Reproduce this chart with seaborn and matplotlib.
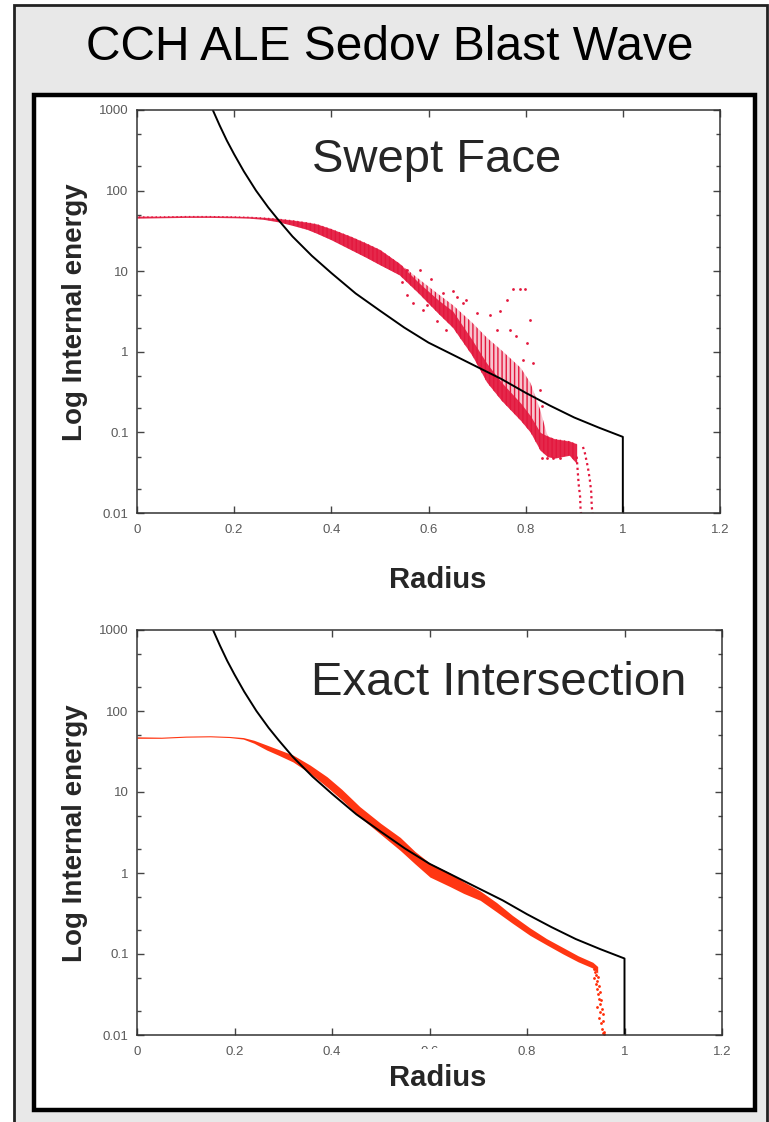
import numpy as np
import pandas as pd
import matplotlib
matplotlib.use('Agg')
import matplotlib.pyplot as plt
import seaborn as sns
from matplotlib.patches import Rectangle
from matplotlib.ticker import LogLocator, NullFormatter, FixedLocator

# exact Sedov solution (black curve)
exact_r = [0.156, 0.17, 0.185, 0.20, 0.22, 0.245, 0.27, 0.29, 0.32, 0.36, 0.40, 0.45,
           0.50, 0.55, 0.60, 0.65, 0.70, 0.75, 0.80, 0.85, 0.90, 0.95, 1.0, 1.0]
exact_e = [1000, 646, 417, 282, 173, 100, 62, 44, 27, 15.5, 9.5, 5.3,
           3.24, 2.0, 1.3, 0.92, 0.65, 0.46, 0.31, 0.215, 0.153, 0.115, 0.088, 0.005]

# swept face: band of cells
sw_r = [0.0, 0.05, 0.10, 0.15, 0.20, 0.23, 0.26, 0.29, 0.32, 0.35, 0.37, 0.40, 0.44,
        0.47, 0.50, 0.54, 0.58, 0.62, 0.65, 0.69, 0.72, 0.75, 0.79, 0.81, 0.83, 0.845,
        0.86, 0.89, 0.905]
sw_hi = [48, 48, 48.5, 48.5, 48, 47.5, 46.5, 45, 43, 40.5, 38.5, 33.5, 27,
         22.5, 18.5, 12.5, 8, 5.2, 3.8, 2.3, 1.5, 1.05, 0.63, 0.41, 0.19, 0.09,
         0.083, 0.078, 0.072]
sw_core = [48, 48, 48.5, 48.5, 48, 47.5, 46.5, 45, 43, 40.5, 38.5, 33.5, 27,
           22.5, 18.5, 12.5, 7.2, 4.4, 3.2, 1.4, 0.72, 0.42, 0.23, 0.16, 0.10, 0.09,
           0.083, 0.078, 0.072]
sw_lo = [45.5, 46, 46.5, 46.5, 46, 45.5, 44, 41, 37, 33, 29.5, 24.5, 18.5,
         15, 12, 9, 5.3, 3.0, 2.0, 0.9, 0.42, 0.25, 0.14, 0.10, 0.06, 0.05,
         0.048, 0.052, 0.041]

# swept face: scattered cells
sw_out_r = [0.545, 0.555, 0.555, 0.569, 0.582, 0.589, 0.596, 0.606, 0.617, 0.63, 0.637,
            0.651, 0.658, 0.671, 0.678, 0.699, 0.726, 0.74, 0.747, 0.761, 0.767, 0.774,
            0.781, 0.788, 0.795, 0.798, 0.802, 0.809, 0.815, 0.829, 0.833, 0.833, 0.843,
            0.856, 0.87]
sw_out_e = [7.4, 10.3, 5.1, 4.0, 10.3, 3.3, 3.8, 8.1, 2.4, 5.3, 1.86,
            5.6, 4.8, 4.0, 4.4, 3.0, 2.9, 1.86, 3.2, 4.4, 1.86, 6.0,
            1.55, 6.0, 0.8, 6.0, 1.27, 2.5, 0.72, 0.34, 0.21, 0.048, 0.048,
            0.048, 0.048]
sw_tail_a_r = [0.905, 0.907, 0.909, 0.912, 0.913, 0.915]
sw_tail_a_e = [0.05, 0.034, 0.023, 0.016, 0.011, 0.009]
sw_tail_b_r = [0.918, 0.922, 0.928, 0.932, 0.935, 0.936, 0.938]
sw_tail_b_e = [0.066, 0.055, 0.037, 0.026, 0.018, 0.012, 0.0095]

# exact intersection: band of cells
ex_r = [0.0, 0.05, 0.10, 0.15, 0.19, 0.218, 0.24, 0.266, 0.29, 0.32, 0.355, 0.39, 0.42,
        0.457, 0.50, 0.54, 0.57, 0.601, 0.642, 0.67, 0.704, 0.738, 0.77, 0.806, 0.84,
        0.874, 0.905, 0.935, 0.945]
ex_hi = [48, 47.5, 49, 49.5, 48.5, 47, 43.5, 38, 33.5, 28.6, 21.5, 15.4, 10.8,
         6.6, 4.1, 2.75, 1.85, 1.32, 1.0, 0.78, 0.6, 0.43, 0.3, 0.21, 0.155,
         0.12, 0.095, 0.079, 0.07]
ex_lo = [46, 46, 47.5, 48, 47, 45, 40, 33, 28.5, 23.5, 17, 11.5, 8.0,
         4.9, 3.0, 1.9, 1.3, 0.89, 0.68, 0.56, 0.46, 0.33, 0.24, 0.17, 0.13,
         0.10, 0.08, 0.067, 0.058]
ex_tail_r = [0.937, 0.94, 0.942, 0.938, 0.944, 0.946, 0.941, 0.948, 0.943, 0.95, 0.945,
             0.947, 0.952, 0.949, 0.944, 0.953, 0.95, 0.955, 0.948, 0.956, 0.951, 0.954,
             0.957, 0.955, 0.958]
ex_tail_e = [0.066, 0.06, 0.055, 0.05, 0.047, 0.052, 0.043, 0.04, 0.037, 0.034, 0.032,
             0.028, 0.027, 0.024, 0.022, 0.021, 0.019, 0.018, 0.016, 0.015, 0.014, 0.012,
             0.011, 0.0105, 0.0102]

x_ticks = [0, 0.2, 0.4, 0.6, 0.8, 1.0, 1.2]
x_labels = ['0', '0.2', '0.4', '0.6', '0.8', '1', '1.2']
y_ticks = [0.01, 0.1, 1, 10, 100, 1000]
y_labels = ['0.01', '0.1', '1', '10', '100', '1000']

sns.set_theme(style='ticks')
plt.rcParams['font.family'] = ['Liberation Sans', 'DejaVu Sans']
plt.rcParams['hatch.linewidth'] = 1.0

W, H = 769, 1122
fig = plt.figure(figsize=(W / 100, H / 100), dpi=100)
fig.patch.set_facecolor('white')

# grey slide panel and white inner box
fig.add_artist(Rectangle((14 / W, -0.02), 753 / W, 1.02 - 5 / H, transform=fig.transFigure,
                         facecolor='#e8e8e8', edgecolor='#222222', lw=2, zorder=-5))
fig.add_artist(Rectangle((34 / W, 1 - 1110 / H), 721 / W, 1015 / H, transform=fig.transFigure,
                         facecolor='white', edgecolor='black', lw=3.2, zorder=-4))

ax1 = fig.add_axes([137 / W, 1 - 513 / H, 583 / W, 403 / H])
ax2 = fig.add_axes([137 / W, 1 - 1035 / H, 585 / W, 405 / H])

crimson = '#e3173d'
orange_red = '#ff2b05'

# top panel: swept face
ax1.fill_between(sw_r, sw_lo, sw_hi, facecolor=(0.89, 0.09, 0.24, 0.25), edgecolor=crimson,
                 hatch='||||', lw=0)
ax1.fill_between(sw_r, sw_lo, sw_core, color=crimson, alpha=0.9, lw=0)
sns.scatterplot(x=sw_out_r, y=sw_out_e, ax=ax1, color=crimson, s=4, linewidth=0)
for tr, te in [(sw_tail_a_r, sw_tail_a_e), (sw_tail_b_r, sw_tail_b_e)]:
    ax1.plot(tr, te, color=crimson, lw=1.6, ls=(0, (1, 1.5)))
sns.lineplot(x=exact_r, y=exact_e, ax=ax1, color='black', lw=1.4, sort=False, estimator=None)

# bottom panel: exact intersection
ax2.fill_between(ex_r, ex_lo, ex_hi, color=orange_red, alpha=0.95, lw=0)
sns.scatterplot(x=ex_tail_r, y=ex_tail_e, ax=ax2, color=orange_red, s=4, linewidth=0)
sns.lineplot(x=exact_r, y=exact_e, ax=ax2, color='black', lw=1.4, sort=False, estimator=None)

for ax in (ax1, ax2):
    ax.set_yscale('log')
    ax.set_xlim(0, 1.2)
    ax.set_ylim(0.01, 1000)
    ax.set_xticks(x_ticks)
    ax.set_xticklabels(x_labels)
    ax.set_yticks(y_ticks)
    ax.set_yticklabels(y_labels)
    ax.yaxis.set_minor_locator(LogLocator(base=10, subs=(2, 5)))
    ax.yaxis.set_minor_formatter(NullFormatter())
    ax.xaxis.set_minor_locator(FixedLocator([]))
    ax.tick_params(which='both', direction='in', top=True, right=True, color='#444444',
                   labelcolor='#5a5a5a', labelsize=9.5, width=1)
    ax.tick_params(axis='x', which='major', length=5, pad=8)
    ax.tick_params(axis='y', which='major', length=5, pad=6)
    ax.tick_params(which='minor', length=3)
    ax.set_xlabel('')
    ax.set_ylabel('')
    for sp in ax.spines.values():
        sp.set_color('#333333')
        sp.set_linewidth(1.1)
    ax.set_facecolor('white')

fig.text(390 / W, 1 - 48 / H, 'CCH ALE Sedov Blast Wave', ha='center', va='center',
         fontsize=34.5, color='black')
fig.text(437 / W, 1 - 160 / H, 'Swept Face', ha='center', va='center', fontsize=34)
fig.text(499 / W, 1 - 683 / H, 'Exact Intersection', ha='center', va='center', fontsize=34)

fig.text(75 / W, 1 - 312 / H, 'Log Internal energy', rotation=90, ha='center', va='center',
         fontsize=20, fontweight='bold')
fig.text(75 / W, 1 - 833 / H, 'Log Internal energy', rotation=90, ha='center', va='center',
         fontsize=20, fontweight='bold')
fig.text(438 / W, 1 - 580 / H, 'Radius', ha='center', va='center', fontsize=21,
         fontweight='bold')
# white backing behind the lower "Radius" hides most of the 0.6 tick label
fig.add_artist(Rectangle((384 / W, 1 - 1094 / H), 108 / W, 45 / H, transform=fig.transFigure,
                         facecolor='white', edgecolor='none', zorder=2.5))
fig.text(438 / W, 1 - 1078 / H, 'Radius', ha='center', va='center', fontsize=21,
         fontweight='bold', zorder=3)

fig.savefig('out.png', dpi=100, facecolor=fig.get_facecolor())
